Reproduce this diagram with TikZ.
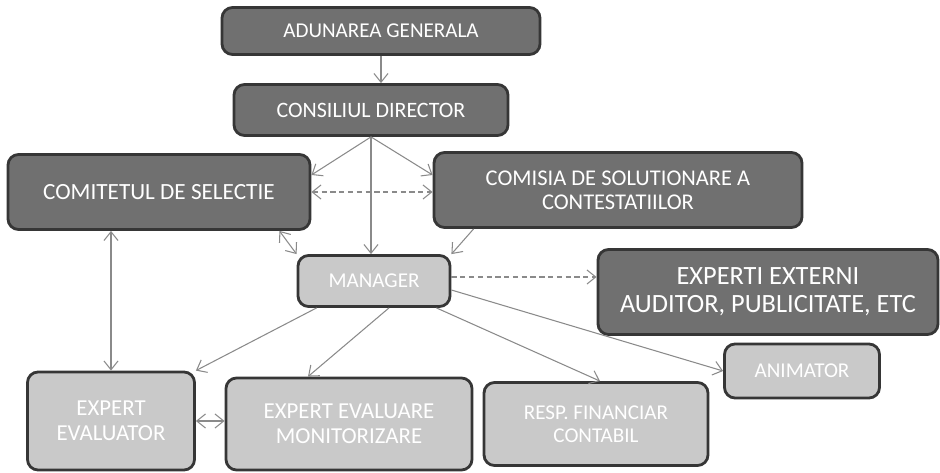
\documentclass[tikz,border=0pt]{standalone}
\usepackage{fontspec}
\setmainfont{Carlito}
\usepackage{tikz}
\usetikzlibrary{arrows.meta,calc,positioning}
\definecolor{boxdark}{HTML}{707070}
\definecolor{boxlight}{HTML}{C9C9C9}
\definecolor{boxline}{HTML}{363636}
\definecolor{arrowgray}{HTML}{8A8A8A}

\begin{document}
\begin{tikzpicture}[
  darkbox/.style={rectangle, rounded corners=6pt, draw=boxline, line width=1.6pt, fill=boxdark, text=white, align=center, inner sep=2pt},
  lightbox/.style={rectangle, rounded corners=6pt, draw=boxline, line width=1.6pt, fill=boxlight, text=white, align=center, inner sep=2pt},
  conn/.style={draw=arrowgray, line width=0.6pt, -{Straight Barb[length=5pt,width=8pt]}},
  dconn/.style={conn, {Straight Barb[length=5pt,width=8pt]}-{Straight Barb[length=5pt,width=8pt]}}
]
\useasboundingbox (0,0) rectangle (18.8,9.44);

% conducere
\node[darkbox, minimum width=6.36cm, minimum height=0.94cm, font=\fontsize{12}{13}\selectfont] (adunare) at (7.62,8.82) {ADUNAREA GENERALA};
\node[darkbox, minimum width=5.48cm, minimum height=1.02cm, font=\fontsize{12.5}{14}\selectfont] (consiliu) at (7.42,7.24) {CONSILIUL DIRECTOR};
\node[darkbox, minimum width=6.04cm, minimum height=1.5cm, font=\fontsize{13.2}{14}\selectfont] (comitet) at (3.18,5.60) {COMITETUL DE SELECTIE};
\node[darkbox, minimum width=7.36cm, minimum height=1.5cm, font=\fontsize{12.8}{13.5}\selectfont] (comisie) at (12.36,5.64) {COMISIA DE SOLUTIONARE A\\CONTESTATIILOR};
\node[lightbox, minimum width=3.04cm, minimum height=1.02cm, font=\fontsize{12}{14}\selectfont] (manager) at (7.48,3.82) {MANAGER};
\node[darkbox, minimum width=6.8cm, minimum height=1.7cm, font=\fontsize{15}{16}\selectfont] (experti) at (15.36,3.60) {EXPERTI EXTERNI\\AUDITOR, PUBLICITATE, ETC};

% echipa proiect
\node[lightbox, minimum width=3.1cm, minimum height=1.08cm, font=\fontsize{12}{14}\selectfont] (animator) at (16.04,2.02) {ANIMATOR};
\node[lightbox, minimum width=3.34cm, minimum height=1.96cm, font=\fontsize{13}{14}\selectfont] (evaluator) at (2.22,1.02) {EXPERT\\EVALUATOR};
\node[lightbox, minimum width=4.92cm, minimum height=1.84cm, font=\fontsize{13}{14}\selectfont] (monitor) at (6.98,0.96) {EXPERT EVALUARE\\MONITORIZARE};
\node[lightbox, minimum width=4.48cm, minimum height=1.66cm, font=\fontsize{12}{13}\selectfont] (financiar) at (11.92,0.96) {RESP. FINANCIAR\\CONTABIL};

% legaturi
\coordinate (mgrout) at ($(manager.east)+(0,0.08)$);
\draw[conn] (adunare.south) -- (adunare.south |- consiliu.north);
\draw[conn] (consiliu.south) -- ($(comitet.east)+(0,0.34)$);
\draw[conn] (consiliu.south) -- ($(comisie.west)+(0,0.30)$);
\draw[conn] (consiliu.south) -- (consiliu.south |- manager.north);
\draw[dconn, densely dashed] (comitet.east) -- (comitet.east -| comisie.west);
\draw[dconn] ($(comitet.south east)+(-0.64,0)$) -- (manager.north west);
\draw[conn] ($(comisie.south west)+(0.82,0)$) -- (manager.north east);
\draw[conn, densely dashed] (mgrout) -- (mgrout -| experti.west);
\draw[conn] ($(manager.east)+(0,-0.18)$) -- (animator.west);
\draw[conn] ($(manager.south east)+(-0.3,0)$) -- ($(financiar.north)+(0.08,0)$);
\draw[conn] ($(manager.south)+(0.3,0)$) -- ($(monitor.north)+(-0.82,0)$);
\draw[conn] ($(manager.south west)+(0.4,0)$) -- (evaluator.north east);
\draw[dconn] (evaluator.north) -- (evaluator.north |- comitet.south);
\draw[dconn] (evaluator.east) -- (evaluator.east -| monitor.west);

\end{tikzpicture}
\end{document}
